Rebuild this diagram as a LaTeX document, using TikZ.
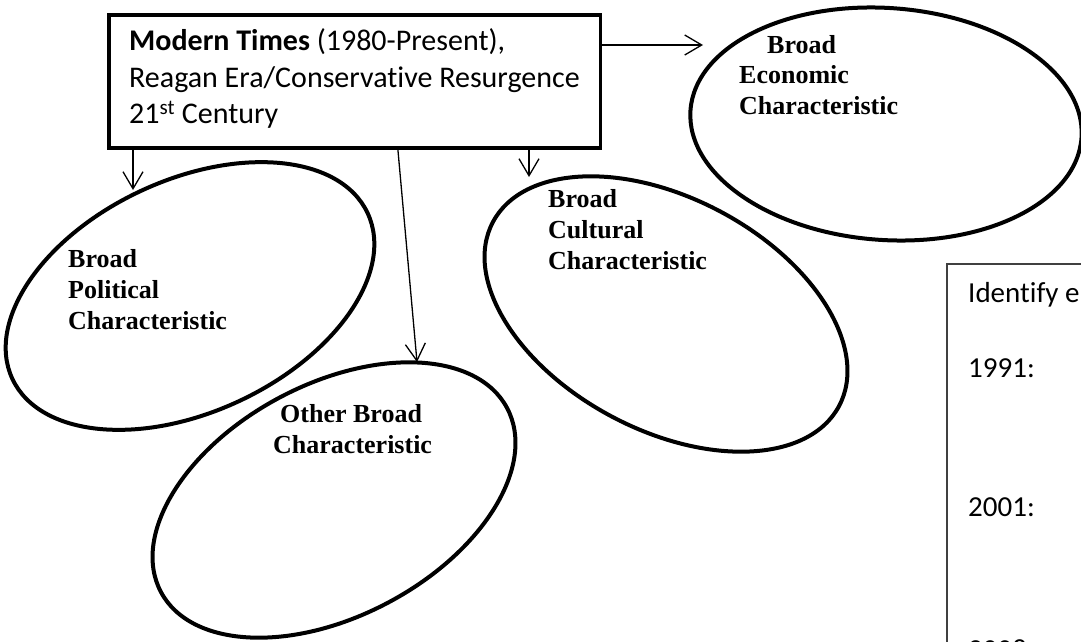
\documentclass[tikz,border=0pt]{standalone}
\usepackage{fontspec}
\setmainfont{Carlito}[Ligatures=NoCommon]
\newfontfamily\tnr{Liberation Serif}
\usetikzlibrary{shapes.geometric,arrows.meta}
\begin{document}
\begin{tikzpicture}[x=1pt,y=-1pt,
  ell/.style={draw, ellipse, line width=4pt, minimum width=392pt, minimum height=232pt, inner sep=0pt},
  arr/.style={line width=1.3pt, -{Straight Barb[length=17pt,width=20pt]}},
  lbl/.style={anchor=base west, inner sep=0pt, font=\tnr\bfseries\fontsize{26}{31}\selectfont},
  btxt/.style={anchor=base west, inner sep=0pt, font=\fontsize{30}{36.5}\selectfont},
  rtxt/.style={anchor=base west, inner sep=0pt, font=\fontsize{29}{35}\selectfont}]
\fill[white] (0,0) rectangle (1081,642);
\useasboundingbox (0,0) rectangle (1081,642);
% main box
\node[draw, rectangle, line width=3.5pt, minimum width=491.5pt, minimum height=133pt, inner sep=0pt, outer sep=0pt] (box) at (354.5,81.5) {};
\node[btxt] (boxtxt) at (129,51) {\begin{tabular}[t]{@{}l@{}}\textbf{Modern Times} (1980-Present),\\Reagan Era/Conservative Resurgence\\21\textsuperscript{st} Century\end{tabular}};
% ellipses
\node[ell, rotate=25] (pol) at (190,296) {};
\node[ell, rotate=28] (oth) at (334,500) {};
\node[ell, rotate=-28] (cul) at (666,314) {};
\node[ell, rotate=-4] (eco) at (886,124) {};
% labels
\node[lbl] (poltxt) at (68,267) {\begin{tabular}[t]{@{}l@{}}Broad\\Political\\Characteristic\end{tabular}};
\node[lbl] (othtxt) at (273,422) {\begin{tabular}[t]{@{}l@{}}\hspace{7pt}Other Broad\\Characteristic\end{tabular}};
\node[lbl] (cultxt) at (548,207) {\begin{tabular}[t]{@{}l@{}}Broad\\Cultural\\Characteristic\end{tabular}};
\node[lbl] (ecotxt) at (739,53) {\begin{tabular}[t]{@{}l@{}}\hspace{28pt}Broad\\Economic\\Characteristic\end{tabular}};
% connectors
\coordinate (tpol) at (133,190);
\coordinate (toth) at (417,362);
\coordinate (tcul) at (529,177);
\coordinate (teco) at (703,45);
\draw[arr] (box.south -| tpol) -- (tpol);
\draw[arr] ([xshift=289pt]box.south west) -- (toth);
\draw[arr] (box.south -| tcul) -- (tcul);
\draw[arr] (box.east |- teco) -- (teco);
% right box
\node[draw=black!75, line width=1.5pt, rectangle, anchor=north west, minimum width=200pt, minimum height=450pt, inner sep=0pt, outer sep=0pt] (idbox) at (947,264) {};
\node[rtxt] (id1) at (968,302) {Identify e};
\node[rtxt] (id2) at (968,377) {1991:};
\node[rtxt] (id3) at (968,516) {2001:};
\node[rtxt] (id4) at (968,659) {2008:};
\end{tikzpicture}
\end{document}
